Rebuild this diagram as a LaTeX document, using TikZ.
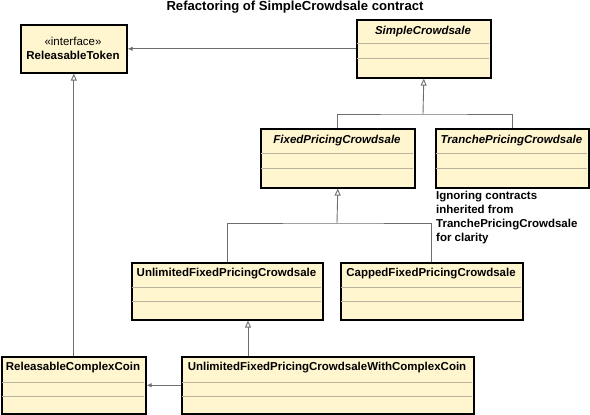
\documentclass[tikz,border=0pt]{standalone}
\usepackage{fontspec}
\setmainfont{Liberation Sans}
\usetikzlibrary{arrows.meta}
\definecolor{boxfill}{HTML}{FFF6D0}
\definecolor{sepgray}{HTML}{B8B4A0}
\definecolor{linegray}{HTML}{6E6E6E}
\tikzset{
 classbox/.style={draw=black, line width=1.6pt, fill=boxfill, inner sep=0pt, anchor=north west},
 sepline/.style={draw=sepgray, line width=0.9pt},
 ctitle/.style={font=\fontsize{11.5}{13}\selectfont\bfseries, inner sep=0pt, anchor=center},
 gen/.style={draw=linegray, line width=0.9pt, -{Triangle[open, width=6pt, length=7pt]}},
 assoc/.style={draw=linegray, line width=0.9pt, -{Latex[width=4.5pt,length=5pt]}},
 treeline/.style={draw=linegray, line width=0.9pt},
 plaintext/.style={font=\fontsize{11.5}{14}\selectfont\bfseries, inner sep=0pt},
}
\newcommand{\umlclass}[9]{%
 \node[classbox, minimum width={#4pt-#2pt}, minimum height={#5pt-#3pt}] (#1) at (#2,#3) {};
 \draw[sepline] (#2+1,#7) -- (#4-1,#7);
 \draw[sepline] (#2+1,#8) -- (#4-1,#8);
 \node[ctitle] (#1-t) at ({(#2+#4)/2},#6) {#9};
}
\begin{document}
\begin{tikzpicture}[x=1pt,y=-1pt]
\useasboundingbox (0,0) rectangle (590,415);
\node[plaintext, font=\fontsize{13.1}{15}\selectfont\bfseries] (title) at (295,7) {Refactoring of SimpleCrowdsale contract};
% ReleasableToken
\node[classbox, minimum width=106pt, minimum height=48pt] (RT) at (20,24) {};
\node[ctitle, font=\fontsize{11.5}{13}\selectfont] (RT-s) at (73,41) {«interface»};
\node[ctitle] (RT-t) at (73,55) {ReleasableToken};
\umlclass{SC}{356}{19}{490}{77}{32}{43}{58}{\itshape SimpleCrowdsale}
\umlclass{FPC}{260}{128}{414}{187}{141}{153}{168}{\itshape FixedPricingCrowdsale}
\umlclass{TPC}{435}{128}{588}{187}{141}{153}{168}{\itshape TranchePricingCrowdsale}
\umlclass{UFPC}{131}{262}{322}{319}{274}{287}{301}{UnlimitedFixedPricingCrowdsale}
\umlclass{CFPC}{340}{262}{522}{319}{274}{287}{301}{CappedFixedPricingCrowdsale}
\umlclass{RCC}{1}{356}{145}{413}{368}{382}{396}{ReleasableComplexCoin}
\umlclass{UW}{181}{356}{473}{413}{368}{382}{396}{UnlimitedFixedPricingCrowdsaleWithComplexCoin}
\node[plaintext, anchor=north west, align=left] (note) at (436,191) {Ignoring contracts\\inherited from\\TranchePricingCrowdsale\\for clarity};
% connectors
\draw[assoc] (SC.west) -- (RT.east);
\coordinate (j1) at (423,114);
\draw[treeline] (FPC.north) |- (j1) -| (TPC.north);
\draw[gen] (j1) -- (SC.south);
\coordinate (j2) at (337,223);
\draw[treeline] (UFPC.north) |- (j2) -| (CFPC.north);
\draw[gen] (j2) -- (FPC.south);
\coordinate (g3) at (248,356);
\draw[gen] (g3) -- (g3 |- UFPC.south);
\draw[gen] (RCC.north) -- (RT.south);
\draw[assoc] (UW.west) -- (RCC.east);
\end{tikzpicture}
\end{document}
